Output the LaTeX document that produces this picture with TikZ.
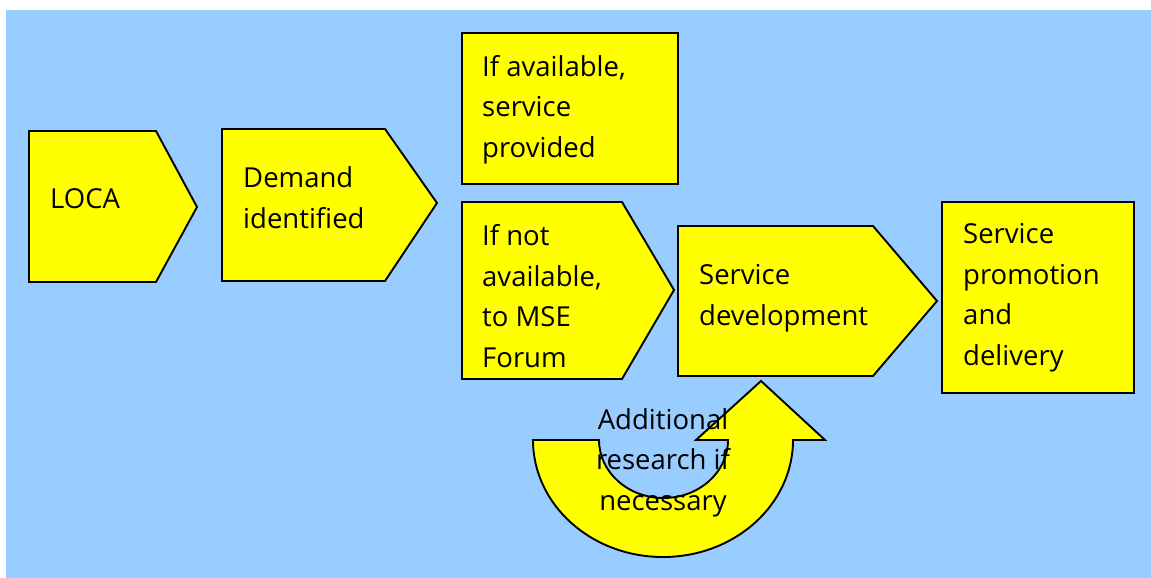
\documentclass[tikz,border=0pt]{standalone}
\usepackage{fontspec}
\setmainfont{Open Sans}
\definecolor{bgblue}{HTML}{99CCFF}
\definecolor{boxyellow}{HTML}{FFFF00}
\begin{document}
\begin{tikzpicture}[x=1pt,y=-1pt,
  shapebox/.style={draw=black, fill=boxyellow, line width=1.9pt, line join=miter},
  lbl/.style={inner sep=0pt, anchor=base west, align=left, font=\fontsize{27.5}{40.5}\selectfont},
  clbl/.style={inner sep=0pt, anchor=base, align=center, font=\fontsize{27.5}{40.5}\selectfont}]
\useasboundingbox (0,0) rectangle (1151,578);
\fill[bgblue] (6,10) rectangle (1151,578);
% LOCA
\draw[shapebox] (29,131) -- (156,131) -- (197,207) -- (156,282) -- (29,282) -- cycle;
\node[lbl] (loca) at (50,208) {LOCA};
% Demand identified
\draw[shapebox] (222,129) -- (385,129) -- (437,203) -- (385,281) -- (222,281) -- cycle;
\node[lbl] (demand) at (243,228) {Demand\\identified};
% If available
\draw[shapebox] (462,33) rectangle (678,184);
\node[lbl] (avail) at (482,157) {If available,\\service\\provided};
% If not available
\draw[shapebox] (462,202) -- (622,202) -- (674,290) -- (622,379) -- (462,379) -- cycle;
\node[lbl] (notavail) at (482,367) {If not\\available,\\to MSE\\Forum};
% Service development
\draw[shapebox] (678,226) -- (873,226) -- (937,301) -- (873,376) -- (678,376) -- cycle;
\node[lbl] (devel) at (699,325) {Service\\development};
% Service promotion
\draw[shapebox] (942,202) rectangle (1134,393);
\node[lbl] (promo) at (963,365) {Service\\promotion\\and\\delivery};
% curved arrow
\draw[shapebox] (533,440) arc[start angle=180, end angle=0, x radius=130, y radius=117]
  -- (825,440) -- (761,381) -- (696,440) -- (728,440)
  arc[start angle=0, end angle=180, x radius=64.5, y radius=58] -- cycle;
\node[clbl] (research) at (663,510) {Additional\\research if\\necessary};
\end{tikzpicture}
\end{document}
